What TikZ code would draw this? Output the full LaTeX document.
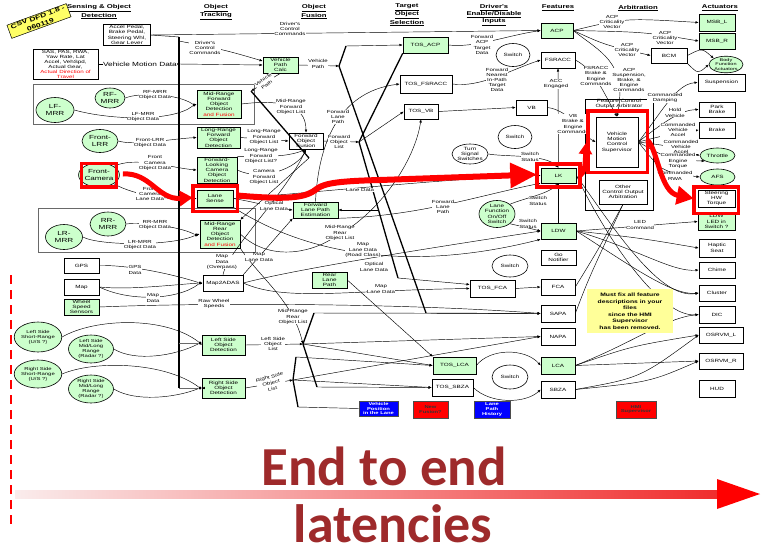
\documentclass[tikz,border=0pt]{standalone}
\usepackage{fontspec}
\setmainfont{Liberation Sans}
\newfontfamily\dfd[FakeStretch=1.38]{Liberation Sans}
\newfontfamily\bigfont{Carlito}
\usetikzlibrary{arrows.meta,shapes.geometric,shadows,calc}

\definecolor{boxgreen}{RGB}{204,255,204}
\definecolor{noteyellow}{RGB}{255,255,153}
\definecolor{tagyellow}{RGB}{255,255,102}
\definecolor{latred}{RGB}{158,42,43}
\definecolor{framegray}{RGB}{105,105,105}
\definecolor{legblue}{RGB}{0,0,255}

\newcommand\dfdtext{\dfd\fontsize{4.6}{5.3}\selectfont}
\newcommand\dfdlbl{\dfd\fontsize{4.4}{5.2}\selectfont}
\newcommand\dfdrot{\dfd\fontsize{4.4}{6.0}\selectfont}
\newcommand\dfdell{\dfd\fontsize{5.9}{6.8}\selectfont}
\newcommand\dfdsmall{\dfd\fontsize{4.3}{5.0}\selectfont}
\newcommand\dfdhead{\dfd\bfseries\fontsize{5.6}{7}\selectfont}

\tikzset{
  bx/.style={draw, line width=0.6pt, fill=white, font=\dfdtext, align=center, inner sep=0pt,
    drop shadow={shadow xshift=0.9pt, shadow yshift=-0.9pt, fill=black!60, opacity=1}},
  gbx/.style={bx, fill=boxgreen},
  el/.style={ellipse, draw, line width=0.6pt, fill=white, font=\dfdell, align=center, inner sep=0pt},
  gel/.style={el, fill=boxgreen},
  lbl/.style={font=\dfdlbl, fill=white, inner sep=0.2pt, align=center},
  con/.style={-{Latex[length=3.2pt,width=2.6pt]}, line width=0.45pt},
  ln/.style={line width=0.45pt},
  thk/.style={line width=1.3pt},
  hd/.style={font=\dfdhead, align=center},
  redframe/.style={draw=red, line width=3.6pt},
  dot/.style={circle, fill=black, inner sep=0pt, minimum size=3.4pt},
  leg/.style={draw=black!70, line width=0.5pt, font=\dfd\bfseries\fontsize{4.2}{4.9}\selectfont, align=center, inner sep=0pt},
}

\begin{document}
\begin{tikzpicture}[x=1pt,y=-1pt]
\useasboundingbox (0,0) rectangle (761,549);
\fill[white] (0,0) rectangle (761,549);

% ---------- column headings ----------
\node[hd] (hSense) at (99,12) {\underline{Sensing \& Object}\\\underline{Detection}};
\node[hd] (hTrack) at (216,12) {\underline{Object}\\\underline{Tracking}};
\node[hd] (hFuse) at (314,12) {\underline{Object}\\\underline{Fusion}};
\node[hd] (hTos) at (407,15) {\underline{Target}\\\underline{Object}\\\underline{Selection}};
\node[hd] (hDrv) at (494,15) {\underline{Driver's}\\\underline{Enable/Disable}\\\underline{Inputs}};
\node[hd] (hFeat) at (558,8) {\underline{Features}};
\node[hd] (hArb) at (638,8) {\underline{Arbitration}};
\node[hd] (hAct) at (720,8) {\underline{Actuators}};

\node[draw, fill=tagyellow, rotate=20, line width=0.5pt, font=\dfd\bfseries\fontsize{6.2}{8}\selectfont,
      align=center, inner xsep=3pt, inner ysep=0.8pt] (tag) at (39,21) {CSV DFD 1.8 -\\060119};

% ---------- group frames ----------
\draw[framegray, line width=0.9pt] (33,84) rectangle (254,124);
\draw[framegray, line width=0.9pt] (38,208) rectangle (255,252);
\draw[line width=0.6pt, fill=white] (585,99) rectangle (653,210);

% ---------- sensing ----------
\node[bx, minimum width=47pt, minimum height=21pt] (accel) at (127,35) {Accel Pedal,\\Brake Pedal,\\Steering Whl,\\Gear Lever};
\node[bx, minimum width=65pt, minimum height=30pt, font=\dfd\fontsize{4.5}{5}\selectfont] (sas) at (65.5,64)
  {SAS, PAS, RWA,\\Yaw Rate, Lat\\Accel, VehSpd,\\Actual Gear,\\\textcolor{red}{Actual Direction of}\\\textcolor{red}{Travel}};
\node[gel, minimum width=30pt, minimum height=20pt] (rfmrr) at (110,98) {RF-\\MRR};
\node[gel, minimum width=38pt, minimum height=25pt] (lfmrr) at (55,110) {LF-\\MRR};
\node[gel, minimum width=36pt, minimum height=23pt] (flrr) at (100,141) {Front-\\LRR};
\node[gel, minimum width=38pt, minimum height=24pt] (fcam) at (99,175) {Front-\\Camera};
\node[gel, minimum width=36pt, minimum height=24pt] (rrmrr) at (108,224) {RR-\\MRR};
\node[gel, minimum width=37pt, minimum height=25pt] (lrmrr) at (64,237) {LR-\\MRR};
\node[bx, minimum width=35pt, minimum height=15pt] (gps) at (81.5,265.5) {GPS};
\node[bx, minimum width=35pt, minimum height=16pt] (map) at (81.5,287) {Map};
\node[gbx, minimum width=35pt, minimum height=16pt] (wss) at (81.5,307) {Wheel\\Speed\\Sensors};
\node[gel, minimum width=45pt, minimum height=30pt, font=\dfdsmall] (lssr) at (38,337) {Left Side\\Short-Range\\(U/S ?)};
\node[gel, minimum width=45pt, minimum height=28pt, font=\dfdsmall] (lsml) at (91,349) {Left Side\\Mid/Long\\Range\\(Radar ?)};
\node[gel, minimum width=45pt, minimum height=28pt, font=\dfdsmall] (rssr) at (38,374) {Right Side\\Short-Range\\(U/S ?)};
\node[gel, minimum width=45pt, minimum height=28pt, font=\dfdsmall] (rsml) at (91,389) {Right Side\\Mid/Long\\Range\\(Radar ?)};

% ---------- object tracking ----------
\node[gbx, minimum width=35pt, minimum height=16pt] (vpc) at (280.5,65) {Vehicle\\Path\\Calc};
\node[gbx, minimum width=44pt, minimum height=28pt] (mrf) at (219,104) {Mid-Range\\Forward\\Object\\Detection\\\textcolor{red}{and Fusion}};
\node[gbx, minimum width=43pt, minimum height=21pt] (lrf) at (218.5,137.5) {Long-Range\\Forward\\Object\\Detection};
\node[gbx, minimum width=40pt, minimum height=26pt] (flc) at (217,170) {Forward-\\Looking\\Camera\\Object\\Detection};
\node[gbx, minimum width=36pt, minimum height=17pt] (ls) at (215,198.5) {Lane\\Sense};
\node[gbx, minimum width=40pt, minimum height=28pt] (mrr) at (220,234) {Mid-Range\\Rear\\Object\\Detection\\\textcolor{red}{and Fusion}};
\node[bx, minimum width=40pt, minimum height=16pt] (m2a) at (223,283) {Map2ADAS};
\node[gbx, minimum width=43pt, minimum height=20pt] (lsod) at (223.5,345) {Left Side\\Object\\Detection};
\node[gbx, minimum width=43pt, minimum height=20pt] (rsod) at (223.5,388) {Right Side\\Object\\Detection};

% ---------- object fusion ----------
\node[bx, minimum width=34pt, minimum height=16pt] (fof) at (306,141) {Forward\\Object\\Fusion};
\node[gbx, minimum width=45pt, minimum height=16pt] (flpe) at (315.5,210) {Forward\\Lane Path\\Estimation};
\node[gbx, minimum width=35pt, minimum height=16pt] (rlp) at (329.5,280) {Rear\\Lane\\Path};

% ---------- target object selection ----------
\node[gbx, minimum width=45pt, minimum height=16pt] (tosacp) at (425.5,45) {TOS\_ACP};
\node[bx, minimum width=52pt, minimum height=18pt] (tosfs) at (426,84) {TOS\_FSRACC};
\node[bx, minimum width=34pt, minimum height=15pt] (tosvb) at (421,111.5) {TOS\_VB};
\node[bx, minimum width=45pt, minimum height=17pt] (tosfca) at (492.5,288.5) {TOS\_FCA};
\node[gbx, minimum width=43pt, minimum height=17pt] (toslca) at (454.5,365.5) {TOS\_LCA};
\node[bx, minimum width=41pt, minimum height=17pt] (tossbza) at (452.5,387.5) {TOS\_SBZA};

% ---------- driver inputs ----------
\node[el, minimum width=34pt, minimum height=23pt, font=\dfdtext] (sw1) at (513,55) {Switch};
\node[el, minimum width=34pt, minimum height=23pt, font=\dfdtext] (sw2) at (515,137) {Switch};
\node[el, minimum width=36pt, minimum height=20pt, font=\dfdtext] (tss) at (470,154) {Turn\\Signal\\Switches};
\node[gel, minimum width=36pt, minimum height=24pt, font=\dfdtext] (lfs) at (497,214) {Lane\\Function\\On/Off\\Switch};
\node[el, minimum width=36pt, minimum height=22pt, font=\dfdtext] (sw3) at (510,266) {Switch};
\node[el, minimum width=36pt, minimum height=24pt, font=\dfdtext] (sw4) at (510,377) {Switch};

% ---------- features ----------
\node[gbx, minimum width=32pt, minimum height=15pt] (acp) at (557,30.5) {ACP};
\node[bx, minimum width=34pt, minimum height=16pt] (fsracc) at (558,60) {FSRACC};
\node[bx, minimum width=31pt, minimum height=15pt] (vb) at (531.5,107.5) {VB};
\node[gbx, minimum width=35pt, minimum height=15pt] (lk) at (558.5,175.5) {LK};
\node[gbx, minimum width=35pt, minimum height=16pt] (ldw) at (558.5,231) {LDW};
\node[bx, minimum width=35pt, minimum height=15pt] (gon) at (558.5,257.5) {Go\\Notifier};
\node[bx, minimum width=34pt, minimum height=16pt] (fca) at (558,287) {FCA};
\node[bx, minimum width=34pt, minimum height=17pt] (sapa) at (558,313.5) {SAPA};
\node[bx, minimum width=34pt, minimum height=17pt] (napa) at (558,336.5) {NAPA};
\node[gbx, minimum width=34pt, minimum height=17pt] (lca) at (558,365.5) {LCA};
\node[bx, minimum width=34pt, minimum height=17pt] (sbza) at (558,389.5) {SBZA};

% ---------- arbitration ----------
\node[bx, minimum width=36pt, minimum height=15pt] (bcm) at (669,55.5) {BCM};
\node[font=\dfdtext, align=center] (fcoa) at (619,104) {Feature Control\\Output Arbitrator};
\node[bx, minimum width=42pt, minimum height=50pt] (vmcs) at (617,142) {Vehicle\\Motion\\Control\\Supervisor};
\node[bx, minimum width=48pt, minimum height=24pt] (ocoa) at (623,192) {Other\\Control Output\\Arbitration};

% ---------- actuators ----------
\node[gbx, minimum width=36pt, minimum height=17pt] (msbl) at (717,22.5) {MSB\_L};
\node[gbx, minimum width=36pt, minimum height=16pt] (msbr) at (717,41) {MSB\_R};
\node[gel, minimum width=34pt, minimum height=15pt, font=\dfd\fontsize{4}{4.4}\selectfont] (bfa) at (726,64.5) {Body\\Function\\Actuators};
\node[bx, minimum width=47pt, minimum height=17pt] (susp) at (721.5,82.5) {Suspension};
\node[bx, minimum width=36pt, minimum height=15pt] (pbrake) at (717,109.5) {Park\\Brake};
\node[bx, minimum width=36pt, minimum height=16pt] (brake) at (717,130) {Brake};
\node[gel, minimum width=35pt, minimum height=15pt, font=\dfdtext] (thr) at (717.5,155.5) {Throttle};
\node[gel, minimum width=35pt, minimum height=16pt, font=\dfdtext] (afs) at (717.5,177) {AFS};
\node[bx, minimum width=37pt, minimum height=17pt] (swt) at (716.5,198.5) {Steering\\HW\\Torque};
\node[gbx, minimum width=37pt, minimum height=17pt] (ldwled) at (716.5,221.5) {LDW\\LED in\\Switch ?};
\node[bx, minimum width=36pt, minimum height=18pt] (haptic) at (717,248) {Haptic\\Seat};
\node[bx, minimum width=36pt, minimum height=16pt] (chime) at (717,270) {Chime};
\node[bx, minimum width=36pt, minimum height=16pt] (cluster) at (717,293) {Cluster};
\node[bx, minimum width=36pt, minimum height=17pt] (dic) at (717,314.5) {DIC};
\node[bx, minimum width=44pt, minimum height=16pt] (osrvml) at (721,335) {OSRVM\_L};
\node[bx, minimum width=44pt, minimum height=16pt] (osrvmr) at (721,361) {OSRVM\_R};
\node[bx, minimum width=36pt, minimum height=17pt] (hud) at (717,388.5) {HUD};

% ---------- legend ----------
\node[leg, fill=legblue, text=white, minimum width=39pt, minimum height=15pt] (legVP) at (378.5,408.5) {Vehicle\\Position\\in the Lane};
\node[leg, fill=red, text=black!80, minimum width=35pt, minimum height=17pt] (legNF) at (430.5,409.5) {New\\Fusion?};
\node[leg, fill=legblue, text=white, minimum width=36pt, minimum height=17pt] (legLP) at (492,409.5) {Lane\\Path\\History};
\node[leg, fill=red, text=black!80, minimum width=40pt, minimum height=17pt] (legHMI) at (636,409.5) {HMI\\Supervisor};

% ---------- junctions ----------
\coordinate (busT) at (179,37);
\coordinate (busB) at (179,388);
\coordinate (busV) at (179,64);
\coordinate (busDC) at (179,41);
\node[dot] (jA) at (194,105) {};
\node[dot] (jB) at (196,235) {};
\node[dot] (jC) at (200,283) {};
\node[dot] (jD) at (200,343) {};
\node[dot] (jE) at (200,388) {};
\coordinate (vV) at (339,66);
\coordinate (vVt) at (346,46);
\coordinate (sapaJ) at (426,313);
\coordinate (vpJ) at (251,91);
\coordinate (vpK) at (309,158);
\coordinate (fV) at (359,142);
\coordinate (fVb) at (398,278);
\coordinate (dg1) at (379,210);
\coordinate (vL) at (303,344);
\coordinate (vLt) at (314,313);
\coordinate (vLb) at (317,387);
\coordinate (vR) at (293,380);
\coordinate (vRt) at (296,357);
\coordinate (vRb) at (298,407);
\coordinate (mrrL) at (330,240);

% ---------- data bus ----------
\draw[line width=1.4pt] (busT) -- (busB);
\draw[framegray, line width=0.8pt] (179,343) -- (jD);
\draw[framegray, line width=0.8pt] (busB) -- (jE);

% ---------- sensing flows ----------
\draw[ln] (accel.east) -- (busT);
\draw[con] (accel.east) -- (acp.west);
\draw[con] (sas.east) -- (busV);
\draw[con] (busV) -- (vpc.west);
\draw[con] (busDC) .. controls (225,50) .. ($(vpc.west)+(0,-4)$);
\draw[ln] (rfmrr.east) .. controls (140,92) and (178,94) .. (jA);
\draw[ln] (lfmrr.east) .. controls (110,120) and (172,122) .. (jA);
\draw[con] (jA) -- (mrf.west);
\draw[con] (flrr.east) .. controls (135,146) and (170,139) .. (lrf.west);
\draw[con] (fcam.north east) .. controls (135,156) and (172,168) .. (flc.west);
\draw[con] (fcam.south east) .. controls (135,196) and (172,200) .. (ls.west);
\draw[ln] (rrmrr.east) .. controls (140,222) and (178,226) .. (jB);
\draw[ln] (lrmrr.east) .. controls (100,246) and (172,246) .. (jB);
\draw[con] (jB) -- (mrr.west);
\draw[ln] (gps.east) .. controls (130,265) and (172,274) .. (jC);
\draw[ln] (map.east) .. controls (130,290) and (170,285) .. (jC);
\draw[ln] (map.east) .. controls (130,302) and (178,300) .. (jC);
\draw[con] (jC) -- (m2a.west);
\draw[con] (wss.east) .. controls (220,302) and (420,304) .. (sapa.west);
\draw[ln] (lssr.east) .. controls (95,318) and (165,316) .. (jD);
\draw[ln] (lsml.east) .. controls (135,362) and (175,356) .. (jD);
\draw[con] (jD) -- (lsod.west);
\draw[ln] (rssr.east) .. controls (95,360) and (165,362) .. (jE);
\draw[ln] (rsml.east) .. controls (135,402) and (175,398) .. (jE);
\draw[con] (jE) -- (rsod.west);

% ---------- tracking and fusion flows ----------
\draw[con] (vpc.east) -- (vV);
\draw[thk] (vV) -- (vVt);
\draw[con] (vVt) -- (tosacp.west);
\draw[thk] (vV) -- (sapaJ);
\draw[con] (sapaJ) -- (sapa.west);
\draw[con] (vpc.south) -- (vpJ);
\draw[thk] (vpJ) -- (vpK);
\draw[con] (vpK) -- (mrr.north east);
\draw[con] (mrf.east) .. controls (275,100) and (306,102) .. (fof.north);
\draw[con] (lrf.east) -- (fof.west);
\draw[con] (flc.north east) .. controls (262,156) and (285,158) .. (fof.south);
\draw[con] (flc.east) .. controls (262,182) and (298,168) .. (fof.south);
\draw[con] (fof.east) -- (fV);
\draw[thk] (fV) -- (tosacp.south west);
\draw[thk] (fV) -- (fVb);
\draw[con] (fVb) -- ($(tosfca.west)+(0,-4)$);
\draw[con] (fV) -- (tosvb.west);
\draw[con] (dg1) -- (flpe.east);
\draw[con] (ls.east) .. controls (300,194) and (450,178) .. (lk.west);
\draw[con] (ls.east) .. controls (255,202) and (275,208) .. (flpe.west);
\draw[con] (ls.south east) .. controls (300,250) and (400,275) .. (ldw.south west);
\draw[con] (flpe.south east) .. controls (420,216) and (480,195) .. (lk.south west);
\draw[con] (flpe.north) .. controls (318,150) and (335,92) .. (tosfs.west);
\draw[ln] (mrr.east) .. controls (270,262) and (310,252) .. (mrrL);
\draw[con] (mrrL) .. controls (380,215) and (415,160) .. (tosvb.south);
\draw[con] (mrr.south east) .. controls (262,280) and (292,300) .. (vL);
\draw[con] (m2a.north) .. controls (228,250) and (285,195) .. (fof.south);
\draw[con] (m2a.north east) -- (flpe.south west);
\draw[con] (m2a.east) .. controls (300,268) and (450,245) .. (ldw.west);
\draw[con] (m2a.east) .. controls (285,302) and (350,290) .. (tosfca.west);
\draw[con] (rlp.east) -- (toslca.north west);
\draw[con] (lsod.east) -- (vL);
\draw[con] (rsod.east) -- (vR);
\draw[thk] (vL) -- (vLt);
\draw[thk] (vL) -- (vLb);
\draw[con] (vLt) -- (sapa.west);
\draw[con] (vLb) -- (tossbza.west);
\draw[con] (vL) -- (napa.west);
\draw[con] (vL) -- (toslca.west);
\draw[thk] (vR) -- (vRt);
\draw[thk] (vR) -- (vRb);
\draw[con] (vRt) -- (toslca.west);
\draw[ln] (vRb) -- (legVP.west);
\draw[con] (vR) -- (napa.west);
\draw[con] (vR) -- (tossbza.west);

% ---------- target selection to features ----------
\draw[con] (tosacp.east) .. controls (475,48) and (505,36) .. (acp.west);
\draw[con] (tosfs.east) .. controls (480,88) and (510,70) .. (fsracc.west);
\draw[con] (tosvb.east) -- (vb.west);
\draw[con] (tosfca.east) -- (fca.west);
\draw[con] (toslca.east) .. controls (490,348) and (525,348) .. (lca.west);
\draw[con] (tossbza.east) .. controls (490,404) and (525,404) .. (sbza.west);
\draw[con] (tss.east) .. controls (505,157) and (545,154) .. (lk.north);
\draw[con] (lfs.north east) .. controls (525,198) and (548,194) .. (lk.south);
\draw[con] (lfs.south east) .. controls (520,226) .. (ldw.west);
\draw[ln] (lk.south) -- (ldw.north);
\draw[con] (lk.north) -- (fsracc.south);

% ---------- features to arbitration and actuators ----------
\draw[con] (acp.east) .. controls (625,18) .. (msbl.west);
\draw[con] (acp.east) .. controls (645,32) .. (msbr.west);
\draw[con] (acp.east) .. controls (605,45) .. (bcm.west);
\draw[con] (acp.east) .. controls (600,52) and (628,62) .. (vmcs.north);
\draw[con] (fsracc.east) .. controls (595,70) and (605,95) .. (vmcs.north);
\draw[con] (vb.east) .. controls (570,110) and (582,135) .. (vmcs.west);
\draw[con] (bcm.east) .. controls (702,48) .. (bfa.north west);
\draw[con] (bcm.south east) .. controls (698,74) .. (bfa.west);
\draw[con] (vmcs.east) .. controls (662,112) and (676,84) .. (susp.west);
\draw[con] (vmcs.east) .. controls (666,120) and (682,110) .. (pbrake.west);
\draw[con] (vmcs.east) .. controls (670,134) .. (brake.west);
\draw[con] (vmcs.east) .. controls (670,146) .. (thr.west);
\draw[con] (vmcs.east) .. controls (670,160) .. (thr.south west);
\draw[con] (vmcs.east) .. controls (662,172) .. (afs.west);
\draw[con] (ldw.east) .. controls (640,226) .. (ldwled.west);
\draw[con] (ldw.east) .. controls (640,238) .. (haptic.west);
\draw[con] (ldw.east) .. controls (640,250) and (672,272) .. (chime.west);
\draw[con] (ldw.east) .. controls (625,262) and (672,296) .. (cluster.west);
\draw[con] (lk.east) .. controls (615,230) and (660,300) .. (cluster.west);
\draw[con] (lk.east) .. controls (610,245) and (662,318) .. (dic.west);
\draw[con] (lca.east) .. controls (635,342) and (665,318) .. (dic.west);
\draw[con] (lca.east) .. controls (632,346) .. (osrvml.west);
\draw[con] (lca.east) -- (osrvmr.west);
\draw[con] (sbza.east) .. controls (640,378) .. (osrvml.west);
\draw[con] (sbza.east) .. controls (650,382) .. (osrvmr.west);
\draw[ln] (sapa.east) .. controls (588,280) .. (ocoa.south);
\draw[ln] (fca.east) .. controls (598,250) .. (ocoa.south);

% ---------- flow labels ----------
\node[lbl] at (290,29) {Driver's\\Control\\Commands};
\node[lbl] at (205,48) {Driver's\\Control\\Commands};
\node[lbl, font=\dfd\fontsize{6}{6.6}\selectfont] at (140,64) {Vehicle Motion Data};
\node[lbl] at (155,95) {RF-MRR\\Object Data};
\node[lbl] at (143,117) {LF-MRR\\Object Data};
\node[lbl] at (150,143) {Front-LRR\\Object Data};
\node[lbl] at (155,163) {Front\\Camera\\Object Data};
\node[lbl] at (150,194) {Front\\Camera\\Lane Data};
\node[lbl] at (155,225) {RR-MRR\\Object Data};
\node[lbl] at (140,245) {LR-MRR\\Object Data};
\node[lbl] at (135,270) {GPS\\Data};
\node[lbl] at (153,298) {Map\\Data};
\node[lbl] at (214,304) {Raw Wheel\\Speeds};
\node[lbl] at (318,64) {Vehicle\\Path};
\node[lbl, font=\dfdrot, rotate=35] at (265,82) {Vehicle\\Path};
\node[lbl] at (291,107) {Mid-Range\\Forward\\Object List};
\node[lbl] at (264,137) {Long-Range\\Forward\\Object List};
\node[lbl] at (261,156) {Long-Range\\Forward\\Object List?};
\node[lbl] at (264,177) {Camera\\Forward\\Object List};
\node[lbl] at (339,142) {Forward\\Object\\List};
\node[lbl] at (338,117) {Forward\\Lane\\Path};
\node[lbl] at (360,190) {Lane Data};
\node[lbl] at (274,206) {Optical\\Lane Data};
\node[lbl] at (443,207) {Forward\\Lane\\Path};
\node[lbl] at (340,233) {Mid-Range\\Rear\\Object List};
\node[lbl] at (222,262) {Map\\Data\\(Overpass)};
\node[lbl] at (259,257) {Map\\Lane Data};
\node[lbl] at (363,250) {Map\\Lane Data\\(Road Class)};
\node[lbl] at (374,267) {Optical\\Lane Data};
\node[lbl] at (381,289) {Map\\Lane Data};
\node[lbl] at (293,317) {Mid-Range\\Rear\\Object List};
\node[lbl] at (273,344) {Left Side\\Object\\List};
\node[lbl, font=\dfdrot, rotate=15] at (271,383) {Right Side\\Object\\List};
\node[lbl] at (482,45) {Forward\\ACP\\Target\\Data};
\node[lbl] at (497,80) {Forward\\Nearest\\In-Path\\Target\\Data};
\node[lbl] at (556,84) {ACC\\Engaged};
\node[lbl] at (530,157) {Switch\\Status};
\node[lbl] at (538,201) {Switch\\Status};
\node[lbl] at (528,224) {Switch\\Status};
\node[lbl] at (612,22) {ACP\\Criticality\\Vector};
\node[lbl] at (665,38) {ACP\\Criticality\\Vector};
\node[lbl] at (627,50) {ACP\\Criticality\\Vector};
\node[lbl] at (629,80) {ACP\\Suspension,\\Brake, \&\\Engine\\Commands};
\node[lbl] at (596,76) {FSRACC\\Brake \&\\Engine\\Commands};
\node[lbl] at (573,124) {VB\\Brake \&\\Engine\\Commands};
\node[lbl] at (665,98) {Commanded\\Damping};
\node[lbl] at (675,113) {Hold\\Vehicle};
\node[lbl] at (678,130) {Commanded\\Vehicle\\Accel};
\node[lbl] at (681,147) {Commanded\\Vehicle\\Accel};
\node[lbl] at (678,161) {Commanded\\Engine\\Torque};
\node[lbl] at (675,176) {Commanded\\RWA};
\node[lbl] at (640,225) {LED\\Command};

% ---------- note ----------
\node[fill=noteyellow, minimum width=86pt, minimum height=44pt, align=center, inner sep=0pt,
      font=\dfd\bfseries\fontsize{4.9}{6.5}\selectfont] (note) at (630,311)
  {Must fix all feature\\descriptions in your\\files\\since the HMI\\Supervisor\\has been removed.};

% ---------- latency path ----------
\draw[redframe] ($(fcam.south west)+(-3,3)$) rectangle ($(fcam.north east)+(3,-3)$);
\draw[redframe] ($(ls.south west)+(-4,4)$) rectangle ($(ls.north east)+(4,-4)$);
\draw[redframe] ($(lk.south west)+(-3.5,3.5)$) rectangle ($(lk.north east)+(3.5,-3.5)$);
\draw[redframe] ($(vmcs.south west)+(-8,5)$) rectangle ($(vmcs.north east)+(9,-6)$);
\draw[redframe] ($(swt.south west)+(-4,6)$) rectangle ($(swt.north east)+(3,-3)$);

\draw[red, line width=5pt, -{Triangle[length=13pt,width=15pt]}]
  ($(fcam.east)+(3,-1)$) .. controls (150,172) and (158,200) .. ($(ls.west)+(-4,-1)$);
\draw[red, line width=6pt, -{Triangle[length=27pt,width=24pt]}]
  ($(ls.east)+(4,-3)$) .. controls (290,200) and (306,198) .. (318,188)
  .. controls (326,183) and (340,181) .. (380,180) -- ($(lk.west)+(-3.5,-1)$);
\draw[red, line width=4.5pt, -{Triangle[length=11pt,width=13pt]}]
  ($(lk.east)+(3,0)$) .. controls (585,175) and (585,162) .. (586,143);
\draw[red, line width=5pt, -{Triangle[length=17pt,width=18pt]}]
  ($(vmcs.east)+(9,-2)$) .. controls (658,150) and (660,192) .. ($(swt.west)+(-4,0)$);

% ---------- latency caption ----------
\draw[red, line width=1.8pt, dash pattern=on 9pt off 6pt] (11,275) -- (11,525);
\shade[left color={rgb,255:red,250;green,236;blue,236}, right color={rgb,255:red,240;green,45;blue,45}]
  (15,490) rectangle (719,498);
\fill[red] (717,479) -- (760,494) -- (717,509) -- cycle;
\node[font=\bigfont\bfseries\fontsize{55}{55}\selectfont, text=latred, anchor=base, inner sep=0pt] (cap1) at (384,485) {End to end};
\node[font=\bigfont\bfseries\fontsize{54}{54}\selectfont, text=latred, anchor=base, inner sep=0pt] (cap2) at (393,542) {latencies};
\end{tikzpicture}
\end{document}
